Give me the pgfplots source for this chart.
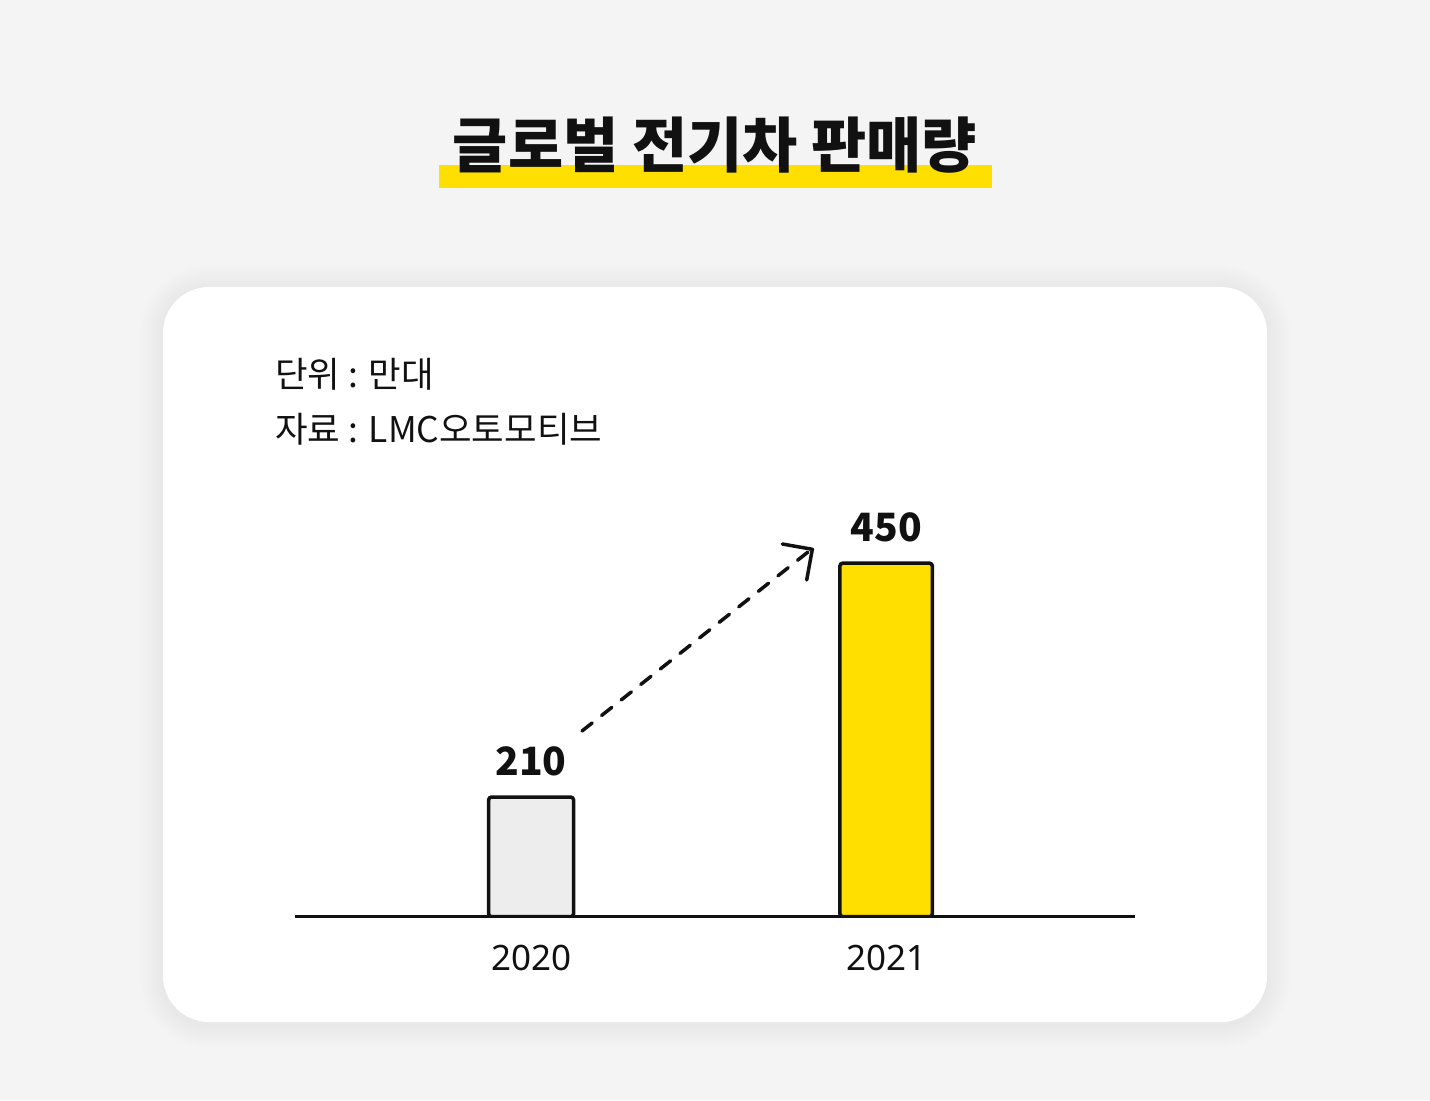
\documentclass[border=0pt]{standalone}
\usepackage{fontspec}
\setmainfont{Noto Sans}
\newfontfamily\kr{Noto Sans CJK KR}
\usepackage{pgfplots}
\pgfplotsset{compat=1.18}
\definecolor{bg}{HTML}{F4F4F4}
\definecolor{hl}{HTML}{FFDF00}
\definecolor{barA}{HTML}{EDEDED}
\definecolor{txt}{HTML}{111111}
\begin{document}
\begin{tikzpicture}
\fill[bg] (0,0) rectangle (715pt,550pt);
% soft shadow of the card
\foreach \i in {1,...,12}{
  \pgfmathsetmacro\xa{81.5-\i}
  \pgfmathsetmacro\ya{39-\i-1}
  \pgfmathsetmacro\xb{633.5+\i}
  \pgfmathsetmacro\yb{406.5+\i-1}
  \pgfmathsetmacro\rr{23+\i}
  \fill[black,opacity=0.004,rounded corners=\rr pt] (\xa pt,\ya pt) rectangle (\xb pt,\yb pt);
}
\fill[white,rounded corners=23pt] (81.5pt,39pt) rectangle (633.5pt,406.5pt);
% title
\fill[hl] (219.5pt,456pt) rectangle (496pt,467.5pt);
\node[anchor=base,inner sep=0pt,text=txt] at (357.5pt,466pt) {\kr\bfseries\fontsize{30}{30}\selectfont 글로벌 전기차 판매량};
% notes
\node[anchor=base west,inner sep=0pt,text=txt] at (137.5pt,356pt) {\kr\fontsize{17.7}{17.7}\selectfont 단위 : 만대};
\node[anchor=base west,inner sep=0pt,text=txt] at (137.5pt,329pt) {\kr\fontsize{17.7}{17.7}\selectfont 자료 : LMC오토모티브};
\begin{axis}[
  at={(147.5pt,91.65pt)}, anchor=south west,
  scale only axis, width=420pt, height=230.4pt,
  xmin=-0.665, xmax=1.701, ymin=87.2, ymax=560,
  axis x line*=bottom, axis y line=none, axis on top,
  x axis line style={line width=1.75pt,-,draw=txt},
  xtick={0,1}, xticklabels={2020,2021},
  major tick length=0pt,
  xticklabel style={anchor=base,yshift=-27pt,font=\fontsize{17.5}{17.5}\selectfont,text=txt},
  /pgf/number format/assume math mode=true,
  ybar,
  nodes near coords,
  nodes near coords style={anchor=base,yshift=11pt,font=\kr\bfseries\fontsize{19.5}{19.5}\selectfont,text=txt},
]
\addplot[fill=barA,draw=txt,line width=1.75pt,bar width=42.5pt,bar shift=0pt,rounded corners=1.5pt] coordinates {(0,210)};
\addplot[fill=hl,draw=txt,line width=1.75pt,bar width=46.25pt,bar shift=0pt,rounded corners=1.5pt] coordinates {(1,450)};
\end{axis}
% trend arrow
\draw[txt,line width=1.75pt,dash pattern=on 6.5pt off 6pt,line cap=round] (291pt,184.5pt) -- (404pt,274pt);
\draw[txt,line width=1.75pt,line cap=round,line join=round] (391.15pt,278pt) -- (406.15pt,275.35pt) -- (403.35pt,260pt);
\end{tikzpicture}
\end{document}
